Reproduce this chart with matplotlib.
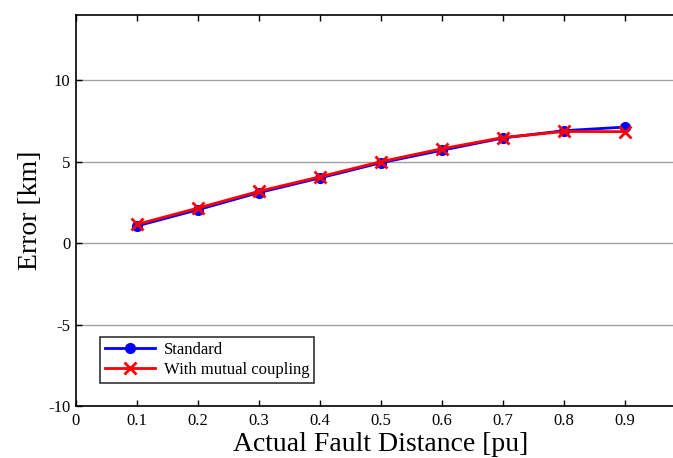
import matplotlib.pyplot as plt

plt.rcParams['font.family'] = ['Liberation Serif', 'DejaVu Serif']
plt.rcParams['axes.unicode_minus'] = False

# data
distance = [0.1, 0.2, 0.3, 0.4, 0.5, 0.6, 0.7, 0.8, 0.9]
err_standard = [1.05, 2.05, 3.1, 4.0, 4.93, 5.7, 6.45, 6.9, 7.12]
err_mutual = [1.15, 2.15, 3.18, 4.07, 5.0, 5.79, 6.48, 6.85, 6.84]
xticks = [0, 0.1, 0.2, 0.3, 0.4, 0.5, 0.6, 0.7, 0.8, 0.9]
xticklabels = ['0', '0.1', '0.2', '0.3', '0.4', '0.5', '0.6', '0.7', '0.8', '0.9']
yticks = [-10, -5, 0, 5, 10]

fig = plt.figure(figsize=(6.73, 4.58), dpi=100)
W, H = 673, 458
# axes box runs past the right edge of the figure, as in the reference
ax = fig.add_axes([76 / W, 1 - 406 / H, 610 / W, (406 - 15) / H])

ax.plot(distance, err_standard, '-o', color='blue', lw=2, ms=7,
        label='Standard', zorder=3)
ax.plot(distance, err_mutual, '-x', color='red', lw=2, ms=8, mew=2,
        label='With mutual coupling', zorder=4)

ax.set_xlim(0, 1)
ax.set_ylim(-10, 14)
ax.set_xticks(xticks)
ax.set_xticklabels(xticklabels)
ax.set_yticks(yticks)
ax.grid(axis='y', color='#a0a0a0', lw=1)
ax.tick_params(direction='in', top=True, right=True, labelsize=12,
               length=4, width=1, colors='black')
ax.tick_params(axis='x', pad=5)
ax.tick_params(axis='y', pad=4)
for s in ax.spines.values():
    s.set_linewidth(1.2)

ax.set_xlabel('Actual Fault Distance [pu]', fontsize=20, labelpad=2)
ax.set_ylabel('Error [km]', fontsize=20, labelpad=4)

leg = ax.legend(loc='lower left', bbox_to_anchor=(0.04, 0.058), fontsize=12,
                frameon=True, fancybox=False, edgecolor='black',
                borderpad=0.3, handlelength=3, labelspacing=0.25,
                borderaxespad=0, handletextpad=0.5)
leg.get_frame().set_linewidth(1.2)

fig.savefig('out.png', dpi=100)
